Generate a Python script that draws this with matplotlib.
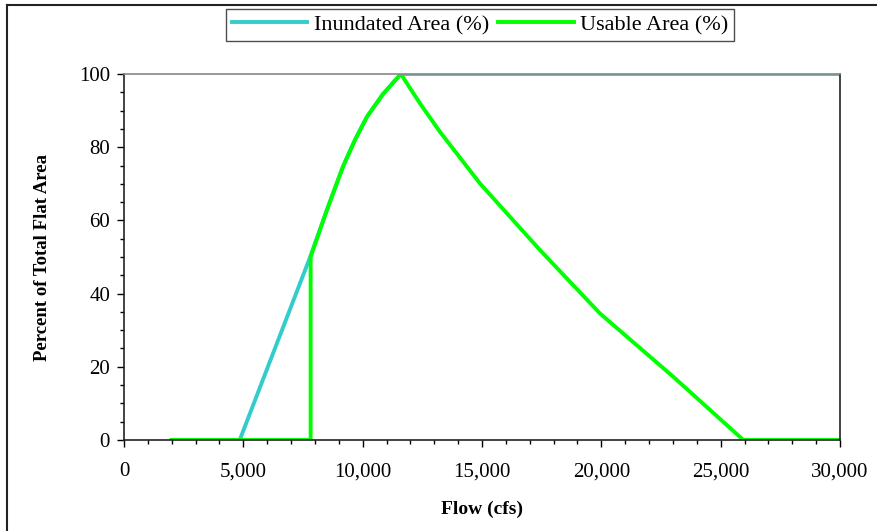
import matplotlib.pyplot as plt
from matplotlib.lines import Line2D
from matplotlib.ticker import MultipleLocator, FuncFormatter

plt.rcParams['font.family'] = ['Liberation Serif', 'DejaVu Serif']

# Inundated area (%) vs flow (cfs).
inundated_flow = [2000, 4850, 7800, 8500, 9170, 9680, 10180, 10850,
                  11600, 30000]
inundated_pct = [0, 0, 50, 62.8, 74.6, 82, 88.3, 94.5, 100, 100]

# Usable area (%) vs flow (cfs).
usable_flow = [2000, 7820, 7820, 8500, 9170, 9680, 10180, 10850, 11600,
               12400, 13240, 14915, 17430, 19940, 23010, 25950, 30000]
usable_pct = [0, 0, 50, 62.8, 74.6, 82, 88.3, 94.5, 100,
              92, 84.2, 70.1, 51.9, 34.6, 17.3, 0, 0]

fig = plt.figure(figsize=(8.78, 5.31), dpi=100)
ax = fig.add_axes([0.1412, 0.1714, 0.8155, 0.6892])

ax.plot(inundated_flow, inundated_pct, color='#33CCCC', lw=2.8,
        label='Inundated Area (%)')
ax.plot(usable_flow, usable_pct, color='#00FF00', lw=2.8,
        label='Usable Area (%)')

ax.set_xlim(0, 30000)
ax.set_ylim(0, 100)
ax.xaxis.set_major_locator(MultipleLocator(5000))
ax.xaxis.set_minor_locator(MultipleLocator(1000))
ax.yaxis.set_major_locator(MultipleLocator(20))
ax.yaxis.set_minor_locator(MultipleLocator(5))
ax.xaxis.set_major_formatter(FuncFormatter(lambda v, p: f'{int(v):,}'))
ax.tick_params(which='major', direction='out', length=5, width=1,
               labelsize=15, pad=11)
ax.tick_params(which='minor', direction='out', length=3.2, width=1)
ax.tick_params(axis='y', pad=5)
for s in ax.spines.values():
    s.set_linewidth(1.2)
    s.set_color('#222222')
ax.spines['top'].set_color('#888888')

ax.set_xlabel('Flow (cfs)', fontsize=14, fontweight='bold', labelpad=14)
ax.set_ylabel('Percent of Total Flat Area', fontsize=13.5, fontweight='bold',
              labelpad=20)

leg = fig.legend(loc='center', bbox_to_anchor=(0.547, 0.953), ncol=2,
                 fontsize=16, frameon=True, fancybox=False, edgecolor='#222222',
                 handlelength=3.4, handletextpad=0.3, columnspacing=0.4,
                 borderpad=0.25)
leg.get_frame().set_linewidth(1.0)

# Outer border of the figure (top and left edges).
fig.add_artist(Line2D([7 / 878, 1], [1 - 5 / 531, 1 - 5 / 531],
                      transform=fig.transFigure, color='#222222', lw=1.5))
fig.add_artist(Line2D([7 / 878, 7 / 878], [0, 1 - 5 / 531],
                      transform=fig.transFigure, color='#222222', lw=1.5))

fig.savefig('out.png', dpi=100)
